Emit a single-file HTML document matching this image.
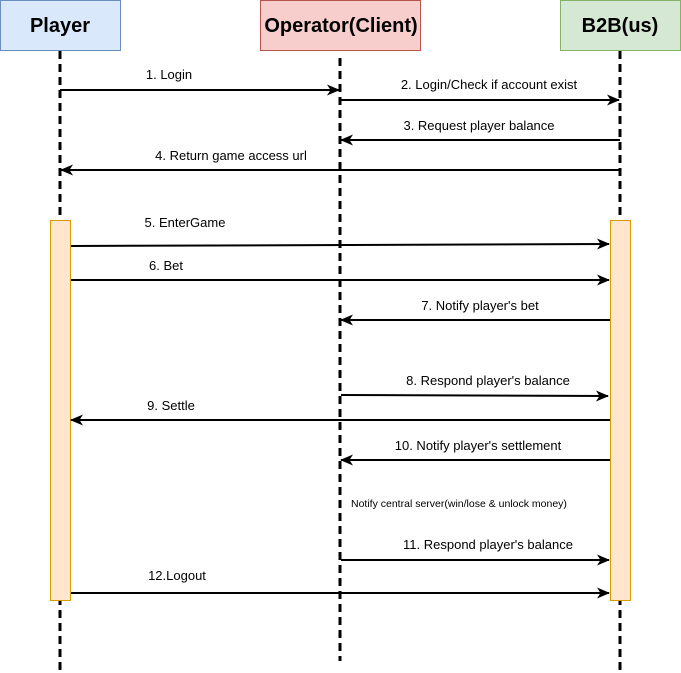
<!DOCTYPE html>
<html><head><meta charset="utf-8"><style>
html,body{margin:0;padding:0;background:#fff;}
svg{display:block;}
text{font-family:"Liberation Sans",Arial,sans-serif;}
</style></head><body>
<svg width="681" height="673" viewBox="0 0 681 673" xmlns="http://www.w3.org/2000/svg">
<defs>
<marker id="a" markerWidth="14" markerHeight="12" refX="12" refY="6" orient="auto" markerUnits="userSpaceOnUse">
<path d="M0,0.5 L13,6 L0,11.5 L3.5,6 Z" fill="#000"/>
</marker>
</defs>
<!-- headers -->
<rect x="0.5" y="0.5" width="120" height="50" fill="#dae8fc" stroke="#6c8ebf"/>
<text x="60" y="32" text-anchor="middle" font-size="20" font-weight="bold">Player</text>
<rect x="260.5" y="0.5" width="160" height="50" fill="#f8cecc" stroke="#b85450"/>
<text x="341" y="32" text-anchor="middle" font-size="20" font-weight="bold">Operator(Client)</text>
<rect x="560.5" y="0.5" width="120" height="50" fill="#d5e8d4" stroke="#82b366"/>
<text x="620" y="32" text-anchor="middle" font-size="20" font-weight="bold">B2B(us)</text>
<!-- lifelines -->
<g stroke="#000" stroke-width="3" stroke-dasharray="8 5" fill="none">
<line x1="60" y1="51" x2="60" y2="673"/>
<line x1="340" y1="58" x2="340" y2="661"/>
<line x1="620" y1="51" x2="620" y2="673"/>
</g>
<!-- activations -->
<rect x="50.5" y="220.5" width="20" height="380" fill="#ffe6cc" stroke="#d79b00"/>
<rect x="610.5" y="220.5" width="20" height="380" fill="#ffe6cc" stroke="#d79b00"/>
<!-- arrows -->
<g stroke="#000" stroke-width="2" fill="none" marker-end="url(#a)">
<line x1="60" y1="90" x2="339" y2="90"/>
<line x1="340" y1="100" x2="619" y2="100"/>
<line x1="620" y1="140" x2="341" y2="140"/>
<line x1="620" y1="170" x2="61" y2="170"/>
<line x1="71" y1="246" x2="609" y2="244"/>
<line x1="71" y1="280" x2="609" y2="280"/>
<line x1="610" y1="320" x2="341" y2="320"/>
<line x1="341" y1="395" x2="608" y2="396"/>
<line x1="610" y1="420" x2="71" y2="420"/>
<line x1="610" y1="460" x2="341" y2="460"/>
<line x1="341" y1="560" x2="609" y2="560"/>
<line x1="71" y1="593" x2="609" y2="593"/>
</g>
<!-- labels -->
<g font-size="13" fill="#000" text-anchor="middle">
<text x="129" y="80" text-anchor="middle" transform="translate(0,0)" style="display:none"></text>
<text x="169" y="79">1. Login</text>
<text x="489" y="89">2. Login/Check if account exist</text>
<text x="479" y="130">3. Request player balance</text>
<text x="231" y="160">4. Return game access url</text>
<text x="185" y="227">5. EnterGame</text>
<text x="166" y="270">6. Bet</text>
<text x="480" y="310">7. Notify player's bet</text>
<text x="488" y="385">8. Respond player's balance</text>
<text x="171" y="410">9. Settle</text>
<text x="478" y="450">10. Notify player's settlement</text>
<text x="351" y="507" font-size="10.5" text-anchor="start">Notify central server(win/lose &amp; unlock money)</text>
<text x="488" y="549">11. Respond player's balance</text>
<text x="177" y="580">12.Logout</text>
</g>
</svg>
</body></html>
